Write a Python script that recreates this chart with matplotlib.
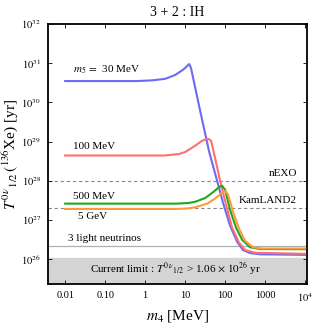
import matplotlib
matplotlib.use("Agg")
import matplotlib.pyplot as plt

# half-life curves (m4 in MeV, T in yr)
M5_LABELS = [r"$m_5\,=\,$ 30 MeV", "100 MeV", "500 MeV", "5 GeV"]
COLORS = ["#6b6bf7", "#ff6f6f", "#1fa81f", "#ff9a3c"]

blue_m = [0.01, 0.6, 1.5, 3.2, 5.6, 8.9, 12.6, 14, 24, 40, 60, 89, 133, 200, 280, 420, 750, 1e4]
blue_T = [3.5e30, 3.5e30, 3.65e30, 4.0e30, 5.0e30, 6.8e30, 9.5e30, 7.6e30, 5.8e29, 5.4e28,
          1.2e28, 2.7e27, 7.1e26, 2.75e26, 1.7e26, 1.42e26, 1.32e26, 1.28e26]

red_m = [0.01, 3.0, 7.0, 10, 17.8, 26.6, 37.6, 44.7, 56, 75, 106, 150, 224, 316, 562, 1e4]
red_T = [4.4e28, 4.4e28, 4.8e28, 5.4e28, 7.8e28, 1.05e29, 1.18e29, 1.05e29, 3.8e28, 9.9e27,
         2.4e27, 6.3e26, 2.6e26, 1.7e26, 1.45e26, 1.36e26]

green_m = [0.01, 6.0, 12, 17.8, 31.6, 50, 71, 84, 100, 133, 188, 266, 420, 750, 1e4]
green_T = [2.6e27, 2.6e27, 2.7e27, 2.9e27, 3.6e27, 5.1e27, 6.9e27, 7.4e27, 5.9e27, 1.8e27,
           6.3e26, 3.1e26, 2.0e26, 1.8e26, 1.78e26]

orange_m = [0.01, 6.0, 12, 17.8, 35.5, 56, 84, 100, 119, 158, 224, 316, 500, 840, 1e4]
orange_T = [1.9e27, 1.9e27, 1.97e27, 2.1e27, 2.6e27, 3.5e27, 4.9e27, 5.5e27, 4.4e27, 1.6e27,
            5.9e26, 2.9e26, 2.0e26, 1.86e26, 1.86e26]

CURRENT_LIMIT = 1.06e26
NEXO = 1e28
KAMLAND2 = 2e27
LIGHT3 = 2.2e26

XTICKS = [0.01, 0.1, 1, 10, 100, 1000, 1e4]
XTICK_LABELS = ["0.01", "0.10", "1", "10", "100", "1000", r"$10^4$"]
YTICKS = [1e26, 1e27, 1e28, 1e29, 1e30, 1e31, 1e32]
YTICK_LABELS = [r"$10^{%d}$" % e for e in range(26, 33)]

plt.rcParams["font.family"] = ["Liberation Serif", "DejaVu Serif"]
plt.rcParams["mathtext.fontset"] = "stix"

fig = plt.figure(figsize=(3.13, 3.25), dpi=100)
ax = fig.add_axes([0.153, 0.126, 0.828, 0.8])

ax.set_xscale("log")
ax.set_yscale("log")
ax.set_xlim(0.0037, 1.12e4)
ax.set_ylim(2.3e25, 1e32)

# excluded region
ax.axhspan(2.3e25, CURRENT_LIMIT, color="#d4d4d4", zorder=0)
ax.text(5.6, 5.6e25, r"Current limit : $T^{0\,\nu}{}_{1/2}$ > 1.06 $\times$ $10^{26}$ yr",
        ha="center", va="center", fontsize=8)

ax.axhline(LIGHT3, color="#b0b0b0", linewidth=0.9, zorder=1)
ax.axhline(NEXO, color="#888888", linestyle=(0, (3, 2.5)), linewidth=0.8, zorder=1)
ax.axhline(KAMLAND2, color="#888888", linestyle=(0, (3, 2.5)), linewidth=0.8, zorder=1)

for m, T, c in [(blue_m, blue_T, COLORS[0]), (red_m, red_T, COLORS[1]),
                (green_m, green_T, COLORS[2]), (orange_m, orange_T, COLORS[3])]:
    ax.plot(m, T, color=c, linewidth=1.5, zorder=3)

ax.text(0.016, 4.6e30, M5_LABELS[0], fontsize=8, va="bottom")
ax.text(0.016, 5.6e28, M5_LABELS[1], fontsize=8, va="bottom")
ax.text(0.016, 3.1e27, M5_LABELS[2], fontsize=8, va="bottom")
ax.text(0.021, 1.55e27, M5_LABELS[3], fontsize=8, va="top")
ax.text(0.012, 2.6e26, "3 light neutrinos", fontsize=8, va="bottom")
ax.text(6300, 1.2e28, "nEXO", fontsize=8, ha="right", va="bottom")
ax.text(6300, 2.35e27, "KamLAND2", fontsize=8, ha="right", va="bottom")

ax.set_xticks(XTICKS)
ax.set_xticklabels(XTICK_LABELS)
ax.set_yticks(YTICKS)
ax.set_yticklabels(YTICK_LABELS)
ax.minorticks_off()
ax.tick_params(direction="in", length=3, width=0.6, top=True, right=True,
               labelsize=7.5, pad=5)

for s in ax.spines.values():
    s.set_linewidth(1.3)

ax.set_title("3 + 2 : IH", fontsize=10, pad=6)
ax.set_xlabel(r"$m_4$ [MeV]", fontsize=11, labelpad=3)
ax.set_ylabel(r"$T^{0\,\nu}{}_{1/2}\,(^{136}$Xe) [yr]", fontsize=11, labelpad=1)

fig.savefig("out.png", dpi=100)
